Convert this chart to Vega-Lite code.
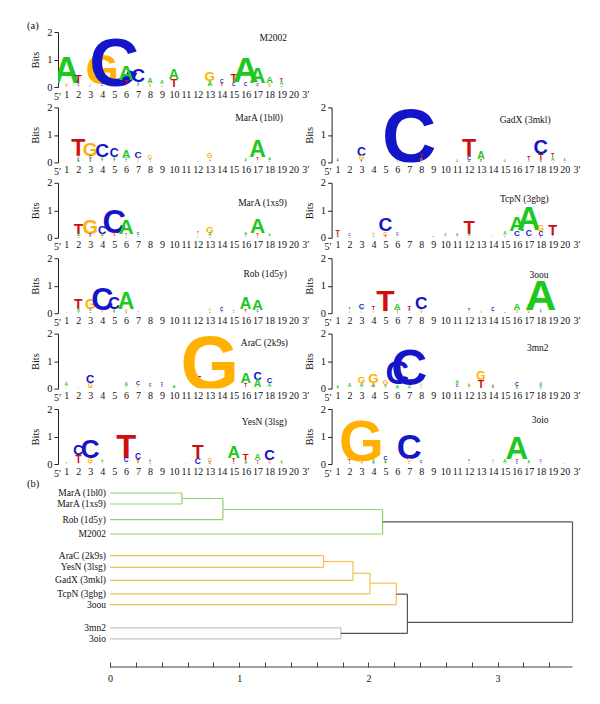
{
"$schema":"https://vega.github.io/schema/vega-lite/v6.json",
"background":"white",
"padding":{"left":27,"top":20,"right":10,"bottom":10},
"columns":2,
"align":"none",
"bounds":"flush",
"spacing":{"row":20.4,"column":25.6},
"resolve":{"scale":{"x":"independent","y":"independent"}},
"title":{"text":"(a)","anchor":"start","frame":"group","dx":-31,"offset":-4},
"config":{"view":{"stroke":null},"axis":{"labelFont":"Liberation Serif","titleFont":"Liberation Serif","grid":false},"title":{"font":"Liberation Serif","fontWeight":"normal","fontSize":10.5,"color":"#111"}},
"datasets":{
"logo":[
{"p":"M2002","x":1,"b":"A","h":0.95},{"p":"M2002","x":1,"b":"G","h":0.1},{"p":"M2002","x":1,"b":"C","h":0.04},
{"p":"M2002","x":2,"b":"T","h":0.3},{"p":"M2002","x":2,"b":"C","h":0.08},{"p":"M2002","x":2,"b":"A","h":0.06},
{"p":"M2002","x":3,"b":"A","h":0.06},{"p":"M2002","x":3,"b":"C","h":0.05},{"p":"M2002","x":3,"b":"G","h":0.04},
{"p":"M2002","x":4,"b":"G","h":1.1},{"p":"M2002","x":4,"b":"C","h":0.08},{"p":"M2002","x":4,"b":"A","h":0.04},
{"p":"M2002","x":5,"b":"C","h":1.8},{"p":"M2002","x":5,"b":"A","h":0.04},
{"p":"M2002","x":6,"b":"A","h":0.55},{"p":"M2002","x":6,"b":"T","h":0.18},{"p":"M2002","x":6,"b":"G","h":0.06},
{"p":"M2002","x":7,"b":"C","h":0.5},{"p":"M2002","x":7,"b":"A","h":0.08},{"p":"M2002","x":7,"b":"T","h":0.06},{"p":"M2002","x":7,"b":"G","h":0.03},
{"p":"M2002","x":8,"b":"A","h":0.18},{"p":"M2002","x":8,"b":"G","h":0.1},{"p":"M2002","x":8,"b":"T","h":0.05},
{"p":"M2002","x":9,"b":"A","h":0.14},{"p":"M2002","x":9,"b":"G","h":0.06},{"p":"M2002","x":9,"b":"C","h":0.04},
{"p":"M2002","x":10,"b":"A","h":0.37},{"p":"M2002","x":10,"b":"T","h":0.3},
{"p":"M2002","x":13,"b":"G","h":0.35},{"p":"M2002","x":13,"b":"A","h":0.17},{"p":"M2002","x":13,"b":"T","h":0.04},
{"p":"M2002","x":14,"b":"C","h":0.13},{"p":"M2002","x":14,"b":"T","h":0.11},{"p":"M2002","x":14,"b":"G","h":0.05},
{"p":"M2002","x":15,"b":"T","h":0.28},{"p":"M2002","x":15,"b":"C","h":0.13},{"p":"M2002","x":15,"b":"G","h":0.04},
{"p":"M2002","x":16,"b":"A","h":0.93},{"p":"M2002","x":16,"b":"C","h":0.12},{"p":"M2002","x":16,"b":"G","h":0.05},
{"p":"M2002","x":17,"b":"A","h":0.58},{"p":"M2002","x":17,"b":"C","h":0.1},{"p":"M2002","x":17,"b":"G","h":0.05},
{"p":"M2002","x":18,"b":"A","h":0.24},{"p":"M2002","x":18,"b":"G","h":0.1},{"p":"M2002","x":18,"b":"C","h":0.05},
{"p":"M2002","x":19,"b":"T","h":0.16},{"p":"M2002","x":19,"b":"A","h":0.13},{"p":"M2002","x":19,"b":"C","h":0.06},
{"p":"MarA (1bl0)","x":2,"b":"T","h":0.6},{"p":"MarA (1bl0)","x":2,"b":"G","h":0.1},{"p":"MarA (1bl0)","x":2,"b":"C","h":0.08},{"p":"MarA (1bl0)","x":2,"b":"A","h":0.07},
{"p":"MarA (1bl0)","x":3,"b":"G","h":0.5},{"p":"MarA (1bl0)","x":3,"b":"C","h":0.1},{"p":"MarA (1bl0)","x":3,"b":"T","h":0.08},{"p":"MarA (1bl0)","x":3,"b":"A","h":0.07},
{"p":"MarA (1bl0)","x":4,"b":"C","h":0.5},{"p":"MarA (1bl0)","x":4,"b":"A","h":0.08},{"p":"MarA (1bl0)","x":4,"b":"T","h":0.06},{"p":"MarA (1bl0)","x":4,"b":"G","h":0.05},
{"p":"MarA (1bl0)","x":5,"b":"C","h":0.32},{"p":"MarA (1bl0)","x":5,"b":"A","h":0.08},{"p":"MarA (1bl0)","x":5,"b":"T","h":0.06},{"p":"MarA (1bl0)","x":5,"b":"G","h":0.05},
{"p":"MarA (1bl0)","x":6,"b":"A","h":0.3},{"p":"MarA (1bl0)","x":6,"b":"C","h":0.07},{"p":"MarA (1bl0)","x":6,"b":"T","h":0.04},{"p":"MarA (1bl0)","x":6,"b":"G","h":0.04},
{"p":"MarA (1bl0)","x":7,"b":"C","h":0.26},{"p":"MarA (1bl0)","x":7,"b":"G","h":0.07},{"p":"MarA (1bl0)","x":7,"b":"T","h":0.04},{"p":"MarA (1bl0)","x":7,"b":"A","h":0.04},
{"p":"MarA (1bl0)","x":8,"b":"G","h":0.15},{"p":"MarA (1bl0)","x":8,"b":"C","h":0.06},{"p":"MarA (1bl0)","x":8,"b":"A","h":0.05},{"p":"MarA (1bl0)","x":8,"b":"T","h":0.03},
{"p":"MarA (1bl0)","x":11,"b":"T","h":0.03},{"p":"MarA (1bl0)","x":12,"b":"T","h":0.04},
{"p":"MarA (1bl0)","x":13,"b":"G","h":0.18},{"p":"MarA (1bl0)","x":13,"b":"C","h":0.06},{"p":"MarA (1bl0)","x":13,"b":"A","h":0.06},{"p":"MarA (1bl0)","x":13,"b":"T","h":0.03},
{"p":"MarA (1bl0)","x":16,"b":"A","h":0.07},{"p":"MarA (1bl0)","x":16,"b":"C","h":0.03},
{"p":"MarA (1bl0)","x":17,"b":"A","h":0.6},{"p":"MarA (1bl0)","x":17,"b":"T","h":0.11},{"p":"MarA (1bl0)","x":17,"b":"C","h":0.05},{"p":"MarA (1bl0)","x":17,"b":"G","h":0.05},
{"p":"MarA (1bl0)","x":18,"b":"A","h":0.1},{"p":"MarA (1bl0)","x":18,"b":"G","h":0.05},{"p":"MarA (1bl0)","x":18,"b":"C","h":0.04},
{"p":"MarA (1xs9)","x":1,"b":"A","h":0.04},{"p":"MarA (1xs9)","x":1,"b":"G","h":0.03},
{"p":"MarA (1xs9)","x":2,"b":"T","h":0.4},{"p":"MarA (1xs9)","x":2,"b":"A","h":0.1},{"p":"MarA (1xs9)","x":2,"b":"C","h":0.05},
{"p":"MarA (1xs9)","x":3,"b":"G","h":0.52},{"p":"MarA (1xs9)","x":3,"b":"T","h":0.08},{"p":"MarA (1xs9)","x":3,"b":"C","h":0.07},
{"p":"MarA (1xs9)","x":4,"b":"C","h":0.3},{"p":"MarA (1xs9)","x":4,"b":"A","h":0.1},{"p":"MarA (1xs9)","x":4,"b":"T","h":0.05},
{"p":"MarA (1xs9)","x":5,"b":"C","h":0.85},{"p":"MarA (1xs9)","x":5,"b":"T","h":0.13},{"p":"MarA (1xs9)","x":5,"b":"G","h":0.05},
{"p":"MarA (1xs9)","x":6,"b":"A","h":0.55},{"p":"MarA (1xs9)","x":6,"b":"T","h":0.08},{"p":"MarA (1xs9)","x":6,"b":"C","h":0.06},
{"p":"MarA (1xs9)","x":7,"b":"C","h":0.1},{"p":"MarA (1xs9)","x":7,"b":"T","h":0.05},{"p":"MarA (1xs9)","x":7,"b":"A","h":0.04},
{"p":"MarA (1xs9)","x":8,"b":"A","h":0.03},{"p":"MarA (1xs9)","x":9,"b":"G","h":0.02},
{"p":"MarA (1xs9)","x":12,"b":"T","h":0.07},{"p":"MarA (1xs9)","x":12,"b":"G","h":0.05},{"p":"MarA (1xs9)","x":12,"b":"A","h":0.05},{"p":"MarA (1xs9)","x":12,"b":"C","h":0.03},
{"p":"MarA (1xs9)","x":13,"b":"G","h":0.26},{"p":"MarA (1xs9)","x":13,"b":"A","h":0.12},{"p":"MarA (1xs9)","x":13,"b":"C","h":0.06},
{"p":"MarA (1xs9)","x":16,"b":"A","h":0.1},{"p":"MarA (1xs9)","x":16,"b":"T","h":0.05},{"p":"MarA (1xs9)","x":16,"b":"G","h":0.04},
{"p":"MarA (1xs9)","x":17,"b":"A","h":0.55},{"p":"MarA (1xs9)","x":17,"b":"T","h":0.11},{"p":"MarA (1xs9)","x":17,"b":"C","h":0.06},
{"p":"MarA (1xs9)","x":18,"b":"A","h":0.07},{"p":"MarA (1xs9)","x":18,"b":"G","h":0.05},
{"p":"Rob (1d5y)","x":1,"b":"A","h":0.05},{"p":"Rob (1d5y)","x":1,"b":"G","h":0.03},
{"p":"Rob (1d5y)","x":2,"b":"T","h":0.36},{"p":"Rob (1d5y)","x":2,"b":"A","h":0.12},{"p":"Rob (1d5y)","x":2,"b":"C","h":0.03},
{"p":"Rob (1d5y)","x":3,"b":"G","h":0.36},{"p":"Rob (1d5y)","x":3,"b":"A","h":0.07},{"p":"Rob (1d5y)","x":3,"b":"C","h":0.05},{"p":"Rob (1d5y)","x":3,"b":"T","h":0.03},
{"p":"Rob (1d5y)","x":4,"b":"C","h":0.8},{"p":"Rob (1d5y)","x":4,"b":"T","h":0.09},{"p":"Rob (1d5y)","x":4,"b":"A","h":0.04},
{"p":"Rob (1d5y)","x":5,"b":"C","h":0.42},{"p":"Rob (1d5y)","x":5,"b":"A","h":0.08},{"p":"Rob (1d5y)","x":5,"b":"T","h":0.06},
{"p":"Rob (1d5y)","x":6,"b":"A","h":0.6},{"p":"Rob (1d5y)","x":6,"b":"G","h":0.1},{"p":"Rob (1d5y)","x":6,"b":"C","h":0.05},
{"p":"Rob (1d5y)","x":7,"b":"C","h":0.04},{"p":"Rob (1d5y)","x":7,"b":"T","h":0.02},{"p":"Rob (1d5y)","x":8,"b":"G","h":0.04},
{"p":"Rob (1d5y)","x":13,"b":"G","h":0.07},{"p":"Rob (1d5y)","x":13,"b":"A","h":0.05},{"p":"Rob (1d5y)","x":13,"b":"C","h":0.03},
{"p":"Rob (1d5y)","x":14,"b":"C","h":0.12},{"p":"Rob (1d5y)","x":14,"b":"T","h":0.05},{"p":"Rob (1d5y)","x":14,"b":"G","h":0.04},
{"p":"Rob (1d5y)","x":15,"b":"C","h":0.06},{"p":"Rob (1d5y)","x":15,"b":"T","h":0.05},{"p":"Rob (1d5y)","x":15,"b":"A","h":0.03},
{"p":"Rob (1d5y)","x":16,"b":"A","h":0.42},{"p":"Rob (1d5y)","x":16,"b":"T","h":0.1},{"p":"Rob (1d5y)","x":16,"b":"G","h":0.05},
{"p":"Rob (1d5y)","x":17,"b":"A","h":0.4},{"p":"Rob (1d5y)","x":17,"b":"C","h":0.08},{"p":"Rob (1d5y)","x":17,"b":"G","h":0.05},
{"p":"AraC (2k9s)","x":1,"b":"A","h":0.13},{"p":"AraC (2k9s)","x":1,"b":"G","h":0.06},{"p":"AraC (2k9s)","x":1,"b":"C","h":0.03},
{"p":"AraC (2k9s)","x":2,"b":"T","h":0.03},{"p":"AraC (2k9s)","x":2,"b":"G","h":0.02},
{"p":"AraC (2k9s)","x":3,"b":"C","h":0.3},{"p":"AraC (2k9s)","x":3,"b":"G","h":0.17},{"p":"AraC (2k9s)","x":3,"b":"T","h":0.04},
{"p":"AraC (2k9s)","x":4,"b":"G","h":0.03},
{"p":"AraC (2k9s)","x":6,"b":"A","h":0.14},{"p":"AraC (2k9s)","x":6,"b":"T","h":0.06},{"p":"AraC (2k9s)","x":6,"b":"G","h":0.05},
{"p":"AraC (2k9s)","x":7,"b":"C","h":0.15},{"p":"AraC (2k9s)","x":7,"b":"G","h":0.07},{"p":"AraC (2k9s)","x":7,"b":"A","h":0.05},
{"p":"AraC (2k9s)","x":8,"b":"C","h":0.1},{"p":"AraC (2k9s)","x":8,"b":"T","h":0.06},{"p":"AraC (2k9s)","x":8,"b":"G","h":0.05},
{"p":"AraC (2k9s)","x":9,"b":"T","h":0.1},{"p":"AraC (2k9s)","x":9,"b":"C","h":0.07},{"p":"AraC (2k9s)","x":9,"b":"G","h":0.05},
{"p":"AraC (2k9s)","x":10,"b":"A","h":0.11},{"p":"AraC (2k9s)","x":10,"b":"G","h":0.04},
{"p":"AraC (2k9s)","x":11,"b":"A","h":0.03},
{"p":"AraC (2k9s)","x":12,"b":"T","h":0.28},{"p":"AraC (2k9s)","x":12,"b":"G","h":0.13},{"p":"AraC (2k9s)","x":12,"b":"C","h":0.04},
{"p":"AraC (2k9s)","x":13,"b":"G","h":1.96},
{"p":"AraC (2k9s)","x":15,"b":"A","h":0.04},
{"p":"AraC (2k9s)","x":16,"b":"A","h":0.38},{"p":"AraC (2k9s)","x":16,"b":"T","h":0.14},{"p":"AraC (2k9s)","x":16,"b":"G","h":0.05},
{"p":"AraC (2k9s)","x":17,"b":"C","h":0.3},{"p":"AraC (2k9s)","x":17,"b":"A","h":0.27},{"p":"AraC (2k9s)","x":17,"b":"T","h":0.06},
{"p":"AraC (2k9s)","x":18,"b":"C","h":0.2},{"p":"AraC (2k9s)","x":18,"b":"A","h":0.14},{"p":"AraC (2k9s)","x":18,"b":"T","h":0.05},
{"p":"YesN (3lsg)","x":1,"b":"T","h":0.06},{"p":"YesN (3lsg)","x":1,"b":"A","h":0.04},
{"p":"YesN (3lsg)","x":2,"b":"C","h":0.36},{"p":"YesN (3lsg)","x":2,"b":"T","h":0.27},{"p":"YesN (3lsg)","x":2,"b":"A","h":0.04},
{"p":"YesN (3lsg)","x":3,"b":"C","h":0.68},{"p":"YesN (3lsg)","x":3,"b":"G","h":0.18},{"p":"YesN (3lsg)","x":3,"b":"T","h":0.04},
{"p":"YesN (3lsg)","x":4,"b":"A","h":0.07},{"p":"YesN (3lsg)","x":4,"b":"T","h":0.04},
{"p":"YesN (3lsg)","x":5,"b":"G","h":0.03},
{"p":"YesN (3lsg)","x":6,"b":"T","h":0.85},{"p":"YesN (3lsg)","x":6,"b":"C","h":0.17},{"p":"YesN (3lsg)","x":6,"b":"G","h":0.06},
{"p":"YesN (3lsg)","x":7,"b":"C","h":0.22},{"p":"YesN (3lsg)","x":7,"b":"T","h":0.15},{"p":"YesN (3lsg)","x":7,"b":"G","h":0.04},
{"p":"YesN (3lsg)","x":8,"b":"A","h":0.07},{"p":"YesN (3lsg)","x":8,"b":"C","h":0.04},
{"p":"YesN (3lsg)","x":11,"b":"A","h":0.05},
{"p":"YesN (3lsg)","x":12,"b":"T","h":0.5},{"p":"YesN (3lsg)","x":12,"b":"C","h":0.22},
{"p":"YesN (3lsg)","x":13,"b":"G","h":0.14},{"p":"YesN (3lsg)","x":13,"b":"C","h":0.07},
{"p":"YesN (3lsg)","x":15,"b":"A","h":0.45},{"p":"YesN (3lsg)","x":15,"b":"T","h":0.16},{"p":"YesN (3lsg)","x":15,"b":"C","h":0.06},
{"p":"YesN (3lsg)","x":16,"b":"T","h":0.26},{"p":"YesN (3lsg)","x":16,"b":"A","h":0.09},{"p":"YesN (3lsg)","x":16,"b":"C","h":0.05},
{"p":"YesN (3lsg)","x":17,"b":"A","h":0.22},{"p":"YesN (3lsg)","x":17,"b":"T","h":0.09},{"p":"YesN (3lsg)","x":17,"b":"C","h":0.05},
{"p":"YesN (3lsg)","x":18,"b":"C","h":0.38},{"p":"YesN (3lsg)","x":18,"b":"G","h":0.1},{"p":"YesN (3lsg)","x":18,"b":"T","h":0.05},
{"p":"YesN (3lsg)","x":19,"b":"A","h":0.07},{"p":"YesN (3lsg)","x":19,"b":"T","h":0.03},
{"p":"GadX (3mkl)","x":1,"b":"A","h":0.08},{"p":"GadX (3mkl)","x":1,"b":"C","h":0.04},{"p":"GadX (3mkl)","x":1,"b":"G","h":0.03},
{"p":"GadX (3mkl)","x":3,"b":"C","h":0.32},{"p":"GadX (3mkl)","x":3,"b":"G","h":0.17},{"p":"GadX (3mkl)","x":3,"b":"T","h":0.08},
{"p":"GadX (3mkl)","x":4,"b":"G","h":0.03},
{"p":"GadX (3mkl)","x":6,"b":"G","h":0.09},{"p":"GadX (3mkl)","x":6,"b":"A","h":0.06},{"p":"GadX (3mkl)","x":6,"b":"C","h":0.03},
{"p":"GadX (3mkl)","x":7,"b":"C","h":1.96},
{"p":"GadX (3mkl)","x":8,"b":"T","h":0.14},{"p":"GadX (3mkl)","x":8,"b":"G","h":0.1},{"p":"GadX (3mkl)","x":8,"b":"C","h":0.05},
{"p":"GadX (3mkl)","x":11,"b":"G","h":0.08},{"p":"GadX (3mkl)","x":11,"b":"C","h":0.04},
{"p":"GadX (3mkl)","x":12,"b":"T","h":0.6},{"p":"GadX (3mkl)","x":12,"b":"C","h":0.15},{"p":"GadX (3mkl)","x":12,"b":"A","h":0.09},
{"p":"GadX (3mkl)","x":13,"b":"A","h":0.27},{"p":"GadX (3mkl)","x":13,"b":"T","h":0.09},{"p":"GadX (3mkl)","x":13,"b":"C","h":0.03},
{"p":"GadX (3mkl)","x":15,"b":"G","h":0.08},{"p":"GadX (3mkl)","x":15,"b":"C","h":0.04},
{"p":"GadX (3mkl)","x":16,"b":"C","h":0.04},
{"p":"GadX (3mkl)","x":17,"b":"T","h":0.13},{"p":"GadX (3mkl)","x":17,"b":"A","h":0.06},{"p":"GadX (3mkl)","x":17,"b":"C","h":0.04},
{"p":"GadX (3mkl)","x":18,"b":"C","h":0.52},{"p":"GadX (3mkl)","x":18,"b":"T","h":0.22},{"p":"GadX (3mkl)","x":18,"b":"A","h":0.07},
{"p":"GadX (3mkl)","x":19,"b":"T","h":0.14},{"p":"GadX (3mkl)","x":19,"b":"A","h":0.13},{"p":"GadX (3mkl)","x":19,"b":"C","h":0.05},
{"p":"GadX (3mkl)","x":20,"b":"A","h":0.08},{"p":"GadX (3mkl)","x":20,"b":"C","h":0.05},
{"p":"TcpN (3gbg)","x":1,"b":"T","h":0.2},{"p":"TcpN (3gbg)","x":1,"b":"A","h":0.08},{"p":"TcpN (3gbg)","x":1,"b":"C","h":0.04},
{"p":"TcpN (3gbg)","x":2,"b":"C","h":0.09},{"p":"TcpN (3gbg)","x":2,"b":"T","h":0.06},
{"p":"TcpN (3gbg)","x":4,"b":"G","h":0.09},{"p":"TcpN (3gbg)","x":4,"b":"C","h":0.06},{"p":"TcpN (3gbg)","x":4,"b":"A","h":0.04},
{"p":"TcpN (3gbg)","x":5,"b":"C","h":0.5},{"p":"TcpN (3gbg)","x":5,"b":"G","h":0.15},{"p":"TcpN (3gbg)","x":5,"b":"T","h":0.08},
{"p":"TcpN (3gbg)","x":6,"b":"C","h":0.09},{"p":"TcpN (3gbg)","x":6,"b":"T","h":0.06},{"p":"TcpN (3gbg)","x":6,"b":"G","h":0.05},
{"p":"TcpN (3gbg)","x":8,"b":"A","h":0.03},
{"p":"TcpN (3gbg)","x":9,"b":"T","h":0.06},{"p":"TcpN (3gbg)","x":9,"b":"A","h":0.04},
{"p":"TcpN (3gbg)","x":10,"b":"A","h":0.07},{"p":"TcpN (3gbg)","x":10,"b":"G","h":0.05},
{"p":"TcpN (3gbg)","x":11,"b":"A","h":0.08},{"p":"TcpN (3gbg)","x":11,"b":"G","h":0.06},
{"p":"TcpN (3gbg)","x":12,"b":"T","h":0.48},{"p":"TcpN (3gbg)","x":12,"b":"A","h":0.08},{"p":"TcpN (3gbg)","x":12,"b":"G","h":0.06},
{"p":"TcpN (3gbg)","x":14,"b":"A","h":0.05},{"p":"TcpN (3gbg)","x":14,"b":"G","h":0.04},
{"p":"TcpN (3gbg)","x":15,"b":"A","h":0.12},{"p":"TcpN (3gbg)","x":15,"b":"C","h":0.05},{"p":"TcpN (3gbg)","x":15,"b":"G","h":0.04},
{"p":"TcpN (3gbg)","x":16,"b":"A","h":0.55},{"p":"TcpN (3gbg)","x":16,"b":"C","h":0.21},{"p":"TcpN (3gbg)","x":16,"b":"G","h":0.05},
{"p":"TcpN (3gbg)","x":17,"b":"A","h":0.85},{"p":"TcpN (3gbg)","x":17,"b":"C","h":0.22},{"p":"TcpN (3gbg)","x":17,"b":"T","h":0.05},
{"p":"TcpN (3gbg)","x":18,"b":"G","h":0.22},{"p":"TcpN (3gbg)","x":18,"b":"C","h":0.17},{"p":"TcpN (3gbg)","x":18,"b":"T","h":0.08},
{"p":"TcpN (3gbg)","x":19,"b":"T","h":0.38},{"p":"TcpN (3gbg)","x":19,"b":"C","h":0.07},{"p":"TcpN (3gbg)","x":19,"b":"G","h":0.05},
{"p":"TcpN (3gbg)","x":20,"b":"A","h":0.02},
{"p":"3oou","x":2,"b":"T","h":0.07},{"p":"3oou","x":2,"b":"A","h":0.06},{"p":"3oou","x":2,"b":"C","h":0.03},
{"p":"3oou","x":3,"b":"C","h":0.2},{"p":"3oou","x":3,"b":"A","h":0.07},{"p":"3oou","x":3,"b":"G","h":0.06},{"p":"3oou","x":3,"b":"T","h":0.03},
{"p":"3oou","x":4,"b":"T","h":0.14},{"p":"3oou","x":4,"b":"A","h":0.06},{"p":"3oou","x":4,"b":"G","h":0.05},
{"p":"3oou","x":5,"b":"T","h":0.78},{"p":"3oou","x":5,"b":"A","h":0.06},{"p":"3oou","x":5,"b":"G","h":0.03},
{"p":"3oou","x":6,"b":"A","h":0.25},{"p":"3oou","x":6,"b":"T","h":0.08},{"p":"3oou","x":6,"b":"C","h":0.04},
{"p":"3oou","x":7,"b":"T","h":0.14},{"p":"3oou","x":7,"b":"C","h":0.07},{"p":"3oou","x":7,"b":"A","h":0.06},
{"p":"3oou","x":8,"b":"C","h":0.45},{"p":"3oou","x":8,"b":"G","h":0.1},{"p":"3oou","x":8,"b":"A","h":0.05},
{"p":"3oou","x":11,"b":"A","h":0.03},
{"p":"3oou","x":12,"b":"T","h":0.11},{"p":"3oou","x":12,"b":"A","h":0.05},{"p":"3oou","x":12,"b":"G","h":0.03},
{"p":"3oou","x":13,"b":"G","h":0.06},{"p":"3oou","x":13,"b":"T","h":0.03},
{"p":"3oou","x":14,"b":"C","h":0.12},{"p":"3oou","x":14,"b":"G","h":0.06},{"p":"3oou","x":14,"b":"A","h":0.03},
{"p":"3oou","x":15,"b":"C","h":0.05},{"p":"3oou","x":15,"b":"G","h":0.03},
{"p":"3oou","x":16,"b":"A","h":0.25},{"p":"3oou","x":16,"b":"G","h":0.08},{"p":"3oou","x":16,"b":"T","h":0.05},
{"p":"3oou","x":17,"b":"A","h":0.22},{"p":"3oou","x":17,"b":"G","h":0.08},{"p":"3oou","x":17,"b":"C","h":0.05},
{"p":"3oou","x":18,"b":"A","h":1.12},{"p":"3oou","x":18,"b":"C","h":0.07},{"p":"3oou","x":18,"b":"T","h":0.04},
{"p":"3mn2","x":1,"b":"A","h":0.08},{"p":"3mn2","x":1,"b":"C","h":0.03},
{"p":"3mn2","x":2,"b":"A","h":0.13},{"p":"3mn2","x":2,"b":"G","h":0.05},
{"p":"3mn2","x":3,"b":"G","h":0.25},{"p":"3mn2","x":3,"b":"A","h":0.15},{"p":"3mn2","x":3,"b":"C","h":0.05},
{"p":"3mn2","x":4,"b":"G","h":0.35},{"p":"3mn2","x":4,"b":"A","h":0.15},{"p":"3mn2","x":4,"b":"T","h":0.07},
{"p":"3mn2","x":5,"b":"G","h":0.18},{"p":"3mn2","x":5,"b":"A","h":0.08},{"p":"3mn2","x":5,"b":"C","h":0.05},
{"p":"3mn2","x":6,"b":"C","h":0.85},{"p":"3mn2","x":6,"b":"A","h":0.15},
{"p":"3mn2","x":7,"b":"C","h":1.3},{"p":"3mn2","x":7,"b":"A","h":0.12},
{"p":"3mn2","x":8,"b":"G","h":0.08},{"p":"3mn2","x":8,"b":"A","h":0.05},{"p":"3mn2","x":8,"b":"C","h":0.04},
{"p":"3mn2","x":9,"b":"G","h":0.05},
{"p":"3mn2","x":11,"b":"A","h":0.12},{"p":"3mn2","x":11,"b":"C","h":0.1},{"p":"3mn2","x":11,"b":"G","h":0.06},
{"p":"3mn2","x":12,"b":"G","h":0.09},{"p":"3mn2","x":12,"b":"A","h":0.07},{"p":"3mn2","x":12,"b":"T","h":0.03},
{"p":"3mn2","x":13,"b":"G","h":0.31},{"p":"3mn2","x":13,"b":"T","h":0.28},{"p":"3mn2","x":13,"b":"A","h":0.04},
{"p":"3mn2","x":14,"b":"G","h":0.09},{"p":"3mn2","x":14,"b":"C","h":0.07},
{"p":"3mn2","x":16,"b":"C","h":0.14},{"p":"3mn2","x":16,"b":"A","h":0.1},
{"p":"3mn2","x":18,"b":"A","h":0.12},{"p":"3mn2","x":18,"b":"C","h":0.08},
{"p":"3oio","x":2,"b":"G","h":0.15},{"p":"3oio","x":2,"b":"T","h":0.1},{"p":"3oio","x":2,"b":"C","h":0.06},
{"p":"3oio","x":3,"b":"G","h":1.5},{"p":"3oio","x":3,"b":"C","h":0.06},{"p":"3oio","x":3,"b":"A","h":0.04},
{"p":"3oio","x":4,"b":"G","h":0.12},{"p":"3oio","x":4,"b":"A","h":0.1},{"p":"3oio","x":4,"b":"C","h":0.05},
{"p":"3oio","x":5,"b":"C","h":0.14},{"p":"3oio","x":5,"b":"A","h":0.1},{"p":"3oio","x":5,"b":"G","h":0.05},
{"p":"3oio","x":7,"b":"C","h":0.9},{"p":"3oio","x":7,"b":"G","h":0.12},{"p":"3oio","x":7,"b":"T","h":0.06},
{"p":"3oio","x":8,"b":"C","h":0.1},{"p":"3oio","x":8,"b":"G","h":0.05},
{"p":"3oio","x":12,"b":"T","h":0.07},{"p":"3oio","x":12,"b":"A","h":0.06},
{"p":"3oio","x":14,"b":"G","h":0.07},{"p":"3oio","x":14,"b":"A","h":0.05},
{"p":"3oio","x":15,"b":"A","h":0.14},{"p":"3oio","x":15,"b":"G","h":0.05},
{"p":"3oio","x":16,"b":"A","h":0.82},{"p":"3oio","x":16,"b":"T","h":0.1},{"p":"3oio","x":16,"b":"C","h":0.07},
{"p":"3oio","x":17,"b":"A","h":0.09},{"p":"3oio","x":17,"b":"G","h":0.03},
{"p":"3oio","x":18,"b":"C","h":0.07},{"p":"3oio","x":18,"b":"T","h":0.04},
{"p":"3oio","x":20,"b":"T","h":0.03}
],
"dend":[
{"x":0,"x2":0.557,"y":0,"y2":0,"g":"A"},{"x":0,"x2":0.557,"y":1,"y2":1,"g":"A"},{"x":0.557,"x2":0.557,"y":0,"y2":1,"g":"A"},
{"x":0.557,"x2":0.874,"y":0.5,"y2":0.5,"g":"A"},{"x":0,"x2":0.874,"y":2.42,"y2":2.42,"g":"A"},{"x":0.874,"x2":0.874,"y":0.5,"y2":2.42,"g":"A"},
{"x":0.874,"x2":2.11,"y":1.5,"y2":1.5,"g":"A"},{"x":0,"x2":2.11,"y":3.73,"y2":3.73,"g":"A"},{"x":2.11,"x2":2.11,"y":1.5,"y2":3.73,"g":"A"},
{"x":2.11,"x2":3.58,"y":2.62,"y2":2.62,"g":"D"},
{"x":0,"x2":1.653,"y":5.7,"y2":5.7,"g":"O"},{"x":0,"x2":1.653,"y":6.76,"y2":6.76,"g":"O"},{"x":1.653,"x2":1.653,"y":5.7,"y2":6.76,"g":"O"},
{"x":1.653,"x2":1.881,"y":6.23,"y2":6.23,"g":"O"},{"x":0,"x2":1.881,"y":7.94,"y2":7.94,"g":"O"},{"x":1.881,"x2":1.881,"y":6.23,"y2":7.94,"g":"O"},
{"x":1.881,"x2":2.012,"y":7.3,"y2":7.3,"g":"O"},{"x":0,"x2":2.012,"y":9.18,"y2":9.18,"g":"O"},{"x":2.012,"x2":2.012,"y":7.3,"y2":9.18,"g":"O"},
{"x":2.012,"x2":2.216,"y":8.2,"y2":8.2,"g":"O"},{"x":0,"x2":2.216,"y":10.15,"y2":10.15,"g":"O"},{"x":2.216,"x2":2.216,"y":8.2,"y2":10.15,"g":"O"},
{"x":2.216,"x2":2.302,"y":9.2,"y2":9.2,"g":"D"},
{"x":0,"x2":1.787,"y":12.27,"y2":12.27,"g":"G"},{"x":0,"x2":1.787,"y":13.27,"y2":13.27,"g":"G"},{"x":1.787,"x2":1.787,"y":12.27,"y2":13.27,"g":"G"},
{"x":1.787,"x2":2.302,"y":12.77,"y2":12.77,"g":"D"},{"x":2.302,"x2":2.302,"y":9.2,"y2":12.77,"g":"D"},
{"x":2.302,"x2":3.58,"y":11.76,"y2":11.76,"g":"D"},{"x":3.58,"x2":3.58,"y":2.62,"y2":11.76,"g":"D"}
],
"leaves":[
{"name":"MarA (1bl0)","y":0},{"name":"MarA (1xs9)","y":1},{"name":"Rob (1d5y)","y":2.42},{"name":"M2002","y":3.73},
{"name":"AraC (2k9s)","y":5.7},{"name":"YesN (3lsg)","y":6.76},{"name":"GadX (3mkl)","y":7.94},{"name":"TcpN (3gbg)","y":9.18},{"name":"3oou","y":10.15},
{"name":"3mn2","y":12.27},{"name":"3oio","y":13.27}
]
},
"concat":[
{"width":247.4,"height":55,
"title":{"text":"M2002","anchor":"end","frame":"group","orient":"top","offset":-25,"dx":-18.4,"baseline":"bottom","fontSize":9.5},
"data":{"name":"logo"},"transform":[{"filter":{"field":"p","equal":"M2002"}},{"stack":"h","groupby":["x"],"sort":[{"field":"h","order":"ascending"}],"as":["y0","y1"]}],
"mark":{"type":"text","align":"center","baseline":"alphabetic","font":"Liberation Sans","fontWeight":"bold","clip":true},
"encoding":{"x":{"field":"x","type":"quantitative","scale":{"domain":[0.3,21],"nice":false,"zero":false},"axis":{"tickCount":21,"labelExpr":"datum.value>20.5?'3′':abs(datum.value-round(datum.value))<0.001?format(datum.value,'d'):''","title":"5′","titleX":-1,"titleY":9,"titleAlign":"center","titleBaseline":"middle","titleFontSize":10,"titleFontWeight":"normal","titleColor":"#111","domain":false,"ticks":false,"labelFlush":false,"labelOverlap":false,"labelBound":false,"labelPadding":2,"labelFontSize":10,"labelColor":"#111"}},
"y":{"field":"y0","type":"quantitative","scale":{"domain":[0,2],"nice":false},"axis":{"tickCount":2,"labelExpr":"abs(datum.value-round(datum.value))<0.001?format(datum.value,'d'):''","tickOpacity":{"condition":{"test":"abs(datum.value-round(datum.value))>0.001","value":0},"value":1},"labelOverlap":false,"title":"Bits","titleFontWeight":"normal","titleFontSize":10.5,"titlePadding":6,"titleColor":"#111","labelFontSize":10.5,"labelPadding":2,"tickSize":4,"domainColor":"#222","tickColor":"#222","labelColor":"#111"}},
"text":{"field":"b","type":"nominal"},
"color":{"field":"b","type":"nominal","scale":{"domain":["A","C","G","T"],"range":["#1ec81e","#1414c8","#ffb000","#cc1010"]},"legend":null},
"size":{"field":"h","type":"quantitative","scale":{"domain":[0,2],"range":[0,76.8]},"legend":null}}},
{"data":{"values":[{}]},"mark":{"type":"text","text":""},"width":245,"height":55},
{"width":247.4,"height":55,
"title":{"text":"MarA (1bl0)","anchor":"end","frame":"group","orient":"top","offset":-30,"dx":-22.4,"baseline":"bottom","fontSize":9.5},
"data":{"name":"logo"},"transform":[{"filter":{"field":"p","equal":"MarA (1bl0)"}},{"stack":"h","groupby":["x"],"sort":[{"field":"h","order":"ascending"}],"as":["y0","y1"]}],
"mark":{"type":"text","align":"center","baseline":"alphabetic","font":"Liberation Sans","fontWeight":"bold","clip":true},
"encoding":{"x":{"field":"x","type":"quantitative","scale":{"domain":[0.3,21],"nice":false,"zero":false},"axis":{"tickCount":21,"labelExpr":"datum.value>20.5?'3′':abs(datum.value-round(datum.value))<0.001?format(datum.value,'d'):''","title":"5′","titleX":-1,"titleY":9,"titleAlign":"center","titleBaseline":"middle","titleFontSize":10,"titleFontWeight":"normal","titleColor":"#111","domain":false,"ticks":false,"labelFlush":false,"labelOverlap":false,"labelBound":false,"labelPadding":2,"labelFontSize":10,"labelColor":"#111"}},
"y":{"field":"y0","type":"quantitative","scale":{"domain":[0,2],"nice":false},"axis":{"tickCount":2,"labelExpr":"abs(datum.value-round(datum.value))<0.001?format(datum.value,'d'):''","tickOpacity":{"condition":{"test":"abs(datum.value-round(datum.value))>0.001","value":0},"value":1},"labelOverlap":false,"title":"Bits","titleFontWeight":"normal","titleFontSize":10.5,"titlePadding":6,"titleColor":"#111","labelFontSize":10.5,"labelPadding":2,"tickSize":4,"domainColor":"#222","tickColor":"#222","labelColor":"#111"}},
"text":{"field":"b","type":"nominal"},
"color":{"field":"b","type":"nominal","scale":{"domain":["A","C","G","T"],"range":["#1ec81e","#1414c8","#ffb000","#cc1010"]},"legend":null},
"size":{"field":"h","type":"quantitative","scale":{"domain":[0,2],"range":[0,76.8]},"legend":null}}},
{"width":245,"height":55,
"title":{"text":"GadX (3mkl)","anchor":"end","frame":"group","orient":"top","offset":-32.5,"dx":-26,"baseline":"bottom","fontSize":9.5},
"data":{"name":"logo"},"transform":[{"filter":{"field":"p","equal":"GadX (3mkl)"}},{"stack":"h","groupby":["x"],"sort":[{"field":"h","order":"ascending"}],"as":["y0","y1"]}],
"mark":{"type":"text","align":"center","baseline":"alphabetic","font":"Liberation Sans","fontWeight":"bold","clip":true},
"encoding":{"x":{"field":"x","type":"quantitative","scale":{"domain":[0.5,21],"nice":false,"zero":false},"axis":{"tickCount":21,"labelExpr":"datum.value>20.5?'3′':abs(datum.value-round(datum.value))<0.001?format(datum.value,'d'):''","title":"5′","titleX":-4,"titleY":9,"titleAlign":"center","titleBaseline":"middle","titleFontSize":10,"titleFontWeight":"normal","titleColor":"#111","domain":false,"ticks":false,"labelFlush":false,"labelOverlap":false,"labelBound":false,"labelPadding":2,"labelFontSize":10,"labelColor":"#111"}},
"y":{"field":"y0","type":"quantitative","scale":{"domain":[0,2],"nice":false},"axis":{"tickCount":2,"labelExpr":"abs(datum.value-round(datum.value))<0.001?format(datum.value,'d'):''","tickOpacity":{"condition":{"test":"abs(datum.value-round(datum.value))>0.001","value":0},"value":1},"labelOverlap":false,"title":"Bits","titleFontWeight":"normal","titleFontSize":10.5,"titlePadding":6,"titleColor":"#111","labelFontSize":10.5,"labelPadding":2,"tickSize":4,"domainColor":"#222","tickColor":"#222","labelColor":"#111"}},
"text":{"field":"b","type":"nominal"},
"color":{"field":"b","type":"nominal","scale":{"domain":["A","C","G","T"],"range":["#1ec81e","#1414c8","#ffb000","#cc1010"]},"legend":null},
"size":{"field":"h","type":"quantitative","scale":{"domain":[0,2],"range":[0,76.8]},"legend":null}}},
{"width":247.4,"height":55,
"title":{"text":"MarA (1xs9)","anchor":"end","frame":"group","orient":"top","offset":-39.5,"dx":-18.4,"baseline":"bottom","fontSize":9.5},
"data":{"name":"logo"},"transform":[{"filter":{"field":"p","equal":"MarA (1xs9)"}},{"stack":"h","groupby":["x"],"sort":[{"field":"h","order":"ascending"}],"as":["y0","y1"]}],
"mark":{"type":"text","align":"center","baseline":"alphabetic","font":"Liberation Sans","fontWeight":"bold","clip":true},
"encoding":{"x":{"field":"x","type":"quantitative","scale":{"domain":[0.3,21],"nice":false,"zero":false},"axis":{"tickCount":21,"labelExpr":"datum.value>20.5?'3′':abs(datum.value-round(datum.value))<0.001?format(datum.value,'d'):''","title":"5′","titleX":-1,"titleY":9,"titleAlign":"center","titleBaseline":"middle","titleFontSize":10,"titleFontWeight":"normal","titleColor":"#111","domain":false,"ticks":false,"labelFlush":false,"labelOverlap":false,"labelBound":false,"labelPadding":2,"labelFontSize":10,"labelColor":"#111"}},
"y":{"field":"y0","type":"quantitative","scale":{"domain":[0,2],"nice":false},"axis":{"tickCount":2,"labelExpr":"abs(datum.value-round(datum.value))<0.001?format(datum.value,'d'):''","tickOpacity":{"condition":{"test":"abs(datum.value-round(datum.value))>0.001","value":0},"value":1},"labelOverlap":false,"title":"Bits","titleFontWeight":"normal","titleFontSize":10.5,"titlePadding":6,"titleColor":"#111","labelFontSize":10.5,"labelPadding":2,"tickSize":4,"domainColor":"#222","tickColor":"#222","labelColor":"#111"}},
"text":{"field":"b","type":"nominal"},
"color":{"field":"b","type":"nominal","scale":{"domain":["A","C","G","T"],"range":["#1ec81e","#1414c8","#ffb000","#cc1010"]},"legend":null},
"size":{"field":"h","type":"quantitative","scale":{"domain":[0,2],"range":[0,76.8]},"legend":null}}},
{"width":245,"height":55,
"title":{"text":"TcpN (3gbg)","anchor":"end","frame":"group","orient":"top","offset":-35.5,"dx":-28,"baseline":"bottom","fontSize":9.5},
"data":{"name":"logo"},"transform":[{"filter":{"field":"p","equal":"TcpN (3gbg)"}},{"stack":"h","groupby":["x"],"sort":[{"field":"h","order":"ascending"}],"as":["y0","y1"]}],
"mark":{"type":"text","align":"center","baseline":"alphabetic","font":"Liberation Sans","fontWeight":"bold","clip":true},
"encoding":{"x":{"field":"x","type":"quantitative","scale":{"domain":[0.5,21],"nice":false,"zero":false},"axis":{"tickCount":21,"labelExpr":"datum.value>20.5?'3′':abs(datum.value-round(datum.value))<0.001?format(datum.value,'d'):''","title":"5′","titleX":-4,"titleY":9,"titleAlign":"center","titleBaseline":"middle","titleFontSize":10,"titleFontWeight":"normal","titleColor":"#111","domain":false,"ticks":false,"labelFlush":false,"labelOverlap":false,"labelBound":false,"labelPadding":2,"labelFontSize":10,"labelColor":"#111"}},
"y":{"field":"y0","type":"quantitative","scale":{"domain":[0,2],"nice":false},"axis":{"tickCount":2,"labelExpr":"abs(datum.value-round(datum.value))<0.001?format(datum.value,'d'):''","tickOpacity":{"condition":{"test":"abs(datum.value-round(datum.value))>0.001","value":0},"value":1},"labelOverlap":false,"title":"Bits","titleFontWeight":"normal","titleFontSize":10.5,"titlePadding":6,"titleColor":"#111","labelFontSize":10.5,"labelPadding":2,"tickSize":4,"domainColor":"#222","tickColor":"#222","labelColor":"#111"}},
"text":{"field":"b","type":"nominal"},
"color":{"field":"b","type":"nominal","scale":{"domain":["A","C","G","T"],"range":["#1ec81e","#1414c8","#ffb000","#cc1010"]},"legend":null},
"size":{"field":"h","type":"quantitative","scale":{"domain":[0,2],"range":[0,76.8]},"legend":null}}},
{"width":247.4,"height":55,
"title":{"text":"Rob (1d5y)","anchor":"end","frame":"group","orient":"top","offset":-35.5,"dx":-18.4,"baseline":"bottom","fontSize":9.5},
"data":{"name":"logo"},"transform":[{"filter":{"field":"p","equal":"Rob (1d5y)"}},{"stack":"h","groupby":["x"],"sort":[{"field":"h","order":"ascending"}],"as":["y0","y1"]}],
"mark":{"type":"text","align":"center","baseline":"alphabetic","font":"Liberation Sans","fontWeight":"bold","clip":true},
"encoding":{"x":{"field":"x","type":"quantitative","scale":{"domain":[0.3,21],"nice":false,"zero":false},"axis":{"tickCount":21,"labelExpr":"datum.value>20.5?'3′':abs(datum.value-round(datum.value))<0.001?format(datum.value,'d'):''","title":"5′","titleX":-1,"titleY":9,"titleAlign":"center","titleBaseline":"middle","titleFontSize":10,"titleFontWeight":"normal","titleColor":"#111","domain":false,"ticks":false,"labelFlush":false,"labelOverlap":false,"labelBound":false,"labelPadding":2,"labelFontSize":10,"labelColor":"#111"}},
"y":{"field":"y0","type":"quantitative","scale":{"domain":[0,2],"nice":false},"axis":{"tickCount":2,"labelExpr":"abs(datum.value-round(datum.value))<0.001?format(datum.value,'d'):''","tickOpacity":{"condition":{"test":"abs(datum.value-round(datum.value))>0.001","value":0},"value":1},"labelOverlap":false,"title":"Bits","titleFontWeight":"normal","titleFontSize":10.5,"titlePadding":6,"titleColor":"#111","labelFontSize":10.5,"labelPadding":2,"tickSize":4,"domainColor":"#222","tickColor":"#222","labelColor":"#111"}},
"text":{"field":"b","type":"nominal"},
"color":{"field":"b","type":"nominal","scale":{"domain":["A","C","G","T"],"range":["#1ec81e","#1414c8","#ffb000","#cc1010"]},"legend":null},
"size":{"field":"h","type":"quantitative","scale":{"domain":[0,2],"range":[0,76.8]},"legend":null}}},
{"width":245,"height":55,
"title":{"text":"3oou","anchor":"end","frame":"group","orient":"top","offset":-36.5,"dx":-28,"baseline":"bottom","fontSize":9.5},
"data":{"name":"logo"},"transform":[{"filter":{"field":"p","equal":"3oou"}},{"stack":"h","groupby":["x"],"sort":[{"field":"h","order":"ascending"}],"as":["y0","y1"]}],
"mark":{"type":"text","align":"center","baseline":"alphabetic","font":"Liberation Sans","fontWeight":"bold","clip":true},
"encoding":{"x":{"field":"x","type":"quantitative","scale":{"domain":[0.5,21],"nice":false,"zero":false},"axis":{"tickCount":21,"labelExpr":"datum.value>20.5?'3′':abs(datum.value-round(datum.value))<0.001?format(datum.value,'d'):''","title":"5′","titleX":-4,"titleY":9,"titleAlign":"center","titleBaseline":"middle","titleFontSize":10,"titleFontWeight":"normal","titleColor":"#111","domain":false,"ticks":false,"labelFlush":false,"labelOverlap":false,"labelBound":false,"labelPadding":2,"labelFontSize":10,"labelColor":"#111"}},
"y":{"field":"y0","type":"quantitative","scale":{"domain":[0,2],"nice":false},"axis":{"tickCount":2,"labelExpr":"abs(datum.value-round(datum.value))<0.001?format(datum.value,'d'):''","tickOpacity":{"condition":{"test":"abs(datum.value-round(datum.value))>0.001","value":0},"value":1},"labelOverlap":false,"title":"Bits","titleFontWeight":"normal","titleFontSize":10.5,"titlePadding":6,"titleColor":"#111","labelFontSize":10.5,"labelPadding":2,"tickSize":4,"domainColor":"#222","tickColor":"#222","labelColor":"#111"}},
"text":{"field":"b","type":"nominal"},
"color":{"field":"b","type":"nominal","scale":{"domain":["A","C","G","T"],"range":["#1ec81e","#1414c8","#ffb000","#cc1010"]},"legend":null},
"size":{"field":"h","type":"quantitative","scale":{"domain":[0,2],"range":[0,76.8]},"legend":null}}},
{"width":247.4,"height":55,
"title":{"text":"AraC (2k9s)","anchor":"end","frame":"group","orient":"top","offset":-28.5,"dx":-17.4,"baseline":"bottom","fontSize":9.5},
"data":{"name":"logo"},"transform":[{"filter":{"field":"p","equal":"AraC (2k9s)"}},{"stack":"h","groupby":["x"],"sort":[{"field":"h","order":"ascending"}],"as":["y0","y1"]}],
"mark":{"type":"text","align":"center","baseline":"alphabetic","font":"Liberation Sans","fontWeight":"bold","clip":true},
"encoding":{"x":{"field":"x","type":"quantitative","scale":{"domain":[0.3,21],"nice":false,"zero":false},"axis":{"tickCount":21,"labelExpr":"datum.value>20.5?'3′':abs(datum.value-round(datum.value))<0.001?format(datum.value,'d'):''","title":"5′","titleX":-1,"titleY":9,"titleAlign":"center","titleBaseline":"middle","titleFontSize":10,"titleFontWeight":"normal","titleColor":"#111","domain":false,"ticks":false,"labelFlush":false,"labelOverlap":false,"labelBound":false,"labelPadding":2,"labelFontSize":10,"labelColor":"#111"}},
"y":{"field":"y0","type":"quantitative","scale":{"domain":[0,2],"nice":false},"axis":{"tickCount":2,"labelExpr":"abs(datum.value-round(datum.value))<0.001?format(datum.value,'d'):''","tickOpacity":{"condition":{"test":"abs(datum.value-round(datum.value))>0.001","value":0},"value":1},"labelOverlap":false,"title":"Bits","titleFontWeight":"normal","titleFontSize":10.5,"titlePadding":6,"titleColor":"#111","labelFontSize":10.5,"labelPadding":2,"tickSize":4,"domainColor":"#222","tickColor":"#222","labelColor":"#111"}},
"text":{"field":"b","type":"nominal"},
"color":{"field":"b","type":"nominal","scale":{"domain":["A","C","G","T"],"range":["#1ec81e","#1414c8","#ffb000","#cc1010"]},"legend":null},
"size":{"field":"h","type":"quantitative","scale":{"domain":[0,2],"range":[0,76.8]},"legend":null}}},
{"width":245,"height":55,
"title":{"text":"3mn2","anchor":"end","frame":"group","orient":"top","offset":-33.5,"dx":-28,"baseline":"bottom","fontSize":9.5},
"data":{"name":"logo"},"transform":[{"filter":{"field":"p","equal":"3mn2"}},{"stack":"h","groupby":["x"],"sort":[{"field":"h","order":"ascending"}],"as":["y0","y1"]}],
"mark":{"type":"text","align":"center","baseline":"alphabetic","font":"Liberation Sans","fontWeight":"bold","clip":true},
"encoding":{"x":{"field":"x","type":"quantitative","scale":{"domain":[0.5,21],"nice":false,"zero":false},"axis":{"tickCount":21,"labelExpr":"datum.value>20.5?'3′':abs(datum.value-round(datum.value))<0.001?format(datum.value,'d'):''","title":"5′","titleX":-4,"titleY":9,"titleAlign":"center","titleBaseline":"middle","titleFontSize":10,"titleFontWeight":"normal","titleColor":"#111","domain":false,"ticks":false,"labelFlush":false,"labelOverlap":false,"labelBound":false,"labelPadding":2,"labelFontSize":10,"labelColor":"#111"}},
"y":{"field":"y0","type":"quantitative","scale":{"domain":[0,2],"nice":false},"axis":{"tickCount":2,"labelExpr":"abs(datum.value-round(datum.value))<0.001?format(datum.value,'d'):''","tickOpacity":{"condition":{"test":"abs(datum.value-round(datum.value))>0.001","value":0},"value":1},"labelOverlap":false,"title":"Bits","titleFontWeight":"normal","titleFontSize":10.5,"titlePadding":6,"titleColor":"#111","labelFontSize":10.5,"labelPadding":2,"tickSize":4,"domainColor":"#222","tickColor":"#222","labelColor":"#111"}},
"text":{"field":"b","type":"nominal"},
"color":{"field":"b","type":"nominal","scale":{"domain":["A","C","G","T"],"range":["#1ec81e","#1414c8","#ffb000","#cc1010"]},"legend":null},
"size":{"field":"h","type":"quantitative","scale":{"domain":[0,2],"range":[0,76.8]},"legend":null}}},
{"width":247.4,"height":55,
"title":{"text":"YesN (3lsg)","anchor":"end","frame":"group","orient":"top","offset":-32.5,"dx":-18.4,"baseline":"bottom","fontSize":9.5},
"data":{"name":"logo"},"transform":[{"filter":{"field":"p","equal":"YesN (3lsg)"}},{"stack":"h","groupby":["x"],"sort":[{"field":"h","order":"ascending"}],"as":["y0","y1"]}],
"mark":{"type":"text","align":"center","baseline":"alphabetic","font":"Liberation Sans","fontWeight":"bold","clip":true},
"encoding":{"x":{"field":"x","type":"quantitative","scale":{"domain":[0.3,21],"nice":false,"zero":false},"axis":{"tickCount":21,"labelExpr":"datum.value>20.5?'3′':abs(datum.value-round(datum.value))<0.001?format(datum.value,'d'):''","title":"5′","titleX":-1,"titleY":9,"titleAlign":"center","titleBaseline":"middle","titleFontSize":10,"titleFontWeight":"normal","titleColor":"#111","domain":false,"ticks":false,"labelFlush":false,"labelOverlap":false,"labelBound":false,"labelPadding":2,"labelFontSize":10,"labelColor":"#111"}},
"y":{"field":"y0","type":"quantitative","scale":{"domain":[0,2],"nice":false},"axis":{"tickCount":2,"labelExpr":"abs(datum.value-round(datum.value))<0.001?format(datum.value,'d'):''","tickOpacity":{"condition":{"test":"abs(datum.value-round(datum.value))>0.001","value":0},"value":1},"labelOverlap":false,"title":"Bits","titleFontWeight":"normal","titleFontSize":10.5,"titlePadding":6,"titleColor":"#111","labelFontSize":10.5,"labelPadding":2,"tickSize":4,"domainColor":"#222","tickColor":"#222","labelColor":"#111"}},
"text":{"field":"b","type":"nominal"},
"color":{"field":"b","type":"nominal","scale":{"domain":["A","C","G","T"],"range":["#1ec81e","#1414c8","#ffb000","#cc1010"]},"legend":null},
"size":{"field":"h","type":"quantitative","scale":{"domain":[0,2],"range":[0,76.8]},"legend":null}}},
{"width":245,"height":55,
"title":{"text":"3oio","anchor":"end","frame":"group","orient":"top","offset":-30.5,"dx":-28,"baseline":"bottom","fontSize":9.5},
"data":{"name":"logo"},"transform":[{"filter":{"field":"p","equal":"3oio"}},{"stack":"h","groupby":["x"],"sort":[{"field":"h","order":"ascending"}],"as":["y0","y1"]}],
"mark":{"type":"text","align":"center","baseline":"alphabetic","font":"Liberation Sans","fontWeight":"bold","clip":true},
"encoding":{"x":{"field":"x","type":"quantitative","scale":{"domain":[0.5,21],"nice":false,"zero":false},"axis":{"tickCount":21,"labelExpr":"datum.value>20.5?'3′':abs(datum.value-round(datum.value))<0.001?format(datum.value,'d'):''","title":"5′","titleX":-4,"titleY":9,"titleAlign":"center","titleBaseline":"middle","titleFontSize":10,"titleFontWeight":"normal","titleColor":"#111","domain":false,"ticks":false,"labelFlush":false,"labelOverlap":false,"labelBound":false,"labelPadding":2,"labelFontSize":10,"labelColor":"#111"}},
"y":{"field":"y0","type":"quantitative","scale":{"domain":[0,2],"nice":false},"axis":{"tickCount":2,"labelExpr":"abs(datum.value-round(datum.value))<0.001?format(datum.value,'d'):''","tickOpacity":{"condition":{"test":"abs(datum.value-round(datum.value))>0.001","value":0},"value":1},"labelOverlap":false,"title":"Bits","titleFontWeight":"normal","titleFontSize":10.5,"titlePadding":6,"titleColor":"#111","labelFontSize":10.5,"labelPadding":2,"tickSize":4,"domainColor":"#222","tickColor":"#222","labelColor":"#111"}},
"text":{"field":"b","type":"nominal"},
"color":{"field":"b","type":"nominal","scale":{"domain":["A","C","G","T"],"range":["#1ec81e","#1414c8","#ffb000","#cc1010"]},"legend":null},
"size":{"field":"h","type":"quantitative","scale":{"domain":[0,2],"range":[0,76.8]},"legend":null}}},
{"width":247.4,"height":182.6,"resolve":{"axis":{"x":"independent"}},
"title":{"text":"(b)","anchor":"start","frame":"group","dx":-31,"offset":-5},
"layer":[
{"data":{"name":"dend"},"mark":{"type":"rule","strokeWidth":1.2},
"encoding":{
"x":{"field":"x","type":"quantitative","scale":{"domain":[-0.4025,3.58],"range":[0,514.5],"nice":false,"zero":false},"axis":{"values":[0,0.2,0.4,0.6,0.8,1,1.2,1.4,1.6,1.8,2,2.2,2.4,2.6,2.8,3,3.2,3.4],"tickCount":40,"labelExpr":"abs(datum.value-round(datum.value))<0.001 ? format(datum.value,'d') : ''","title":null,"domain":false,"tickSize":-5,"labelPadding":11,"labelFontSize":10,"labelColor":"#111","tickColor":"#444","labelFlush":false,"labelOverlap":false,"labelBound":false}},
"x2":{"field":"x2"},
"y":{"field":"y","type":"quantitative","scale":{"domain":[-0.78,15.82],"reverse":true,"nice":false,"zero":false},"axis":null},
"y2":{"field":"y2"},
"stroke":{"field":"g","type":"nominal","scale":{"domain":["A","D","G","O"],"range":["#8fd46a","#555555","#c4c4c4","#f5c052"]},"legend":null}}},
{"data":{"name":"leaves"},"mark":{"type":"text","align":"right","baseline":"middle","dx":-4,"font":"Liberation Serif","fontSize":9.5,"color":"#111"},
"encoding":{"x":{"datum":0,"type":"quantitative","axis":{"orient":"top","labels":false,"ticks":false,"domain":false,"title":null,"grid":false}},"y":{"field":"y","type":"quantitative","axis":null},"text":{"field":"name","type":"nominal"}}},
{"data":{"values":[{}]},"mark":{"type":"rule","color":"#444","strokeWidth":1},
"encoding":{"x":{"datum":0,"type":"quantitative","axis":{"orient":"top","labels":false,"ticks":false,"domain":false,"title":null,"grid":false}},"x2":{"datum":3.58},"y":{"datum":15.82,"type":"quantitative","axis":null}}}
]}
]
}
